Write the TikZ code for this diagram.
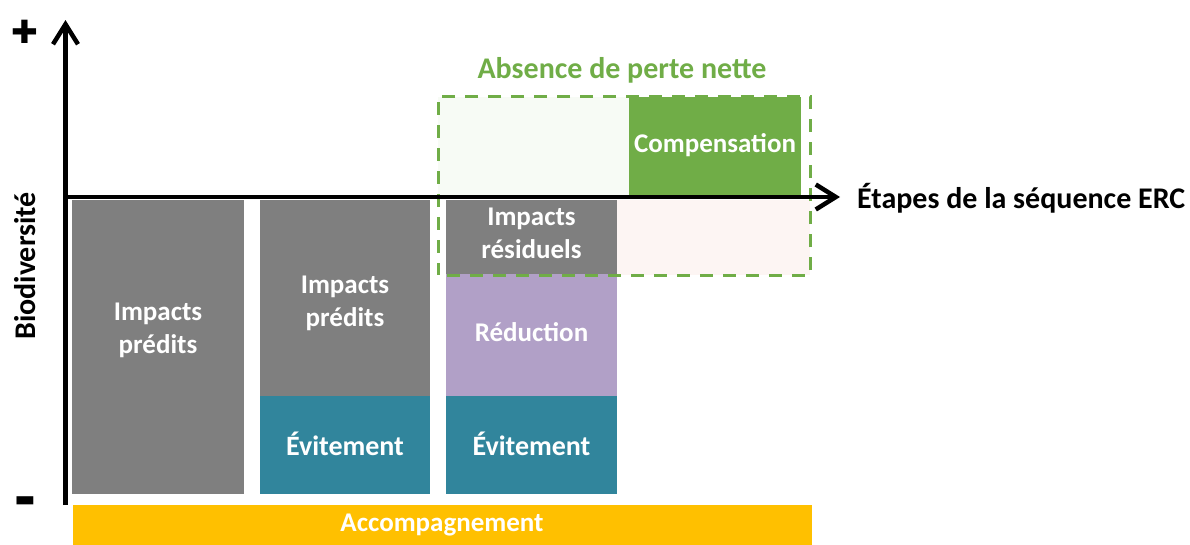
\documentclass[tikz,border=0pt]{standalone}
\usepackage{fontspec}
\setmainfont{Carlito}
\newfontfamily\symfont{DejaVu Sans}
\usetikzlibrary{arrows.meta}
\definecolor{cgray}{HTML}{7F7F7F}
\definecolor{cteal}{HTML}{31859C}
\definecolor{cpurple}{HTML}{B1A0C7}
\definecolor{cgreen}{HTML}{70AD47}
\definecolor{cyellow}{HTML}{FFC000}
\definecolor{lgreen}{HTML}{F7FBF5}
\definecolor{lpink}{HTML}{FDF5F3}
\begin{document}
\begin{tikzpicture}[x=1pt,y=-1pt,
  blk/.style={draw=none, inner sep=0pt, outer sep=0pt, anchor=north west},
  lbl/.style={font=\fontsize{27}{33}\selectfont\bfseries, text=white, align=center, inner sep=0pt},
  olbl/.style={font=\fontsize{30}{36}\selectfont\bfseries, text=black, inner sep=0pt},
  axis/.style={line width=4.5pt, -{Straight Barb[length=20pt,width=25pt]}},
  dashbox/.style={draw=cgreen, line width=3pt, dash pattern=on 13pt off 10pt, dash phase=-9pt}]
\useasboundingbox (0,0) rectangle (1190,544);
% light backgrounds
\node[blk, fill=lgreen, minimum width=191pt, minimum height=98pt] (bgg) at (438,97) {};
\node[blk, fill=lpink, minimum width=193pt, minimum height=75pt] (bgp) at (617,200) {};
% column 1
\node[blk, fill=cgray, minimum width=172pt, minimum height=294pt] (c1) at (72,200) {};
% column 2
\node[blk, fill=cgray, minimum width=170pt, minimum height=196pt] (c2a) at (260,200) {};
\node[blk, fill=cteal, minimum width=170pt, minimum height=98pt] (c2b) at (260,396) {};
% column 3
\node[blk, fill=cgray, minimum width=171pt, minimum height=74pt] (c3a) at (446,200) {};
\node[blk, fill=cpurple, minimum width=171pt, minimum height=122pt] (c3b) at (446,274) {};
\node[blk, fill=cteal, minimum width=171pt, minimum height=98pt] (c3c) at (446,396) {};
% compensation
\node[blk, fill=cgreen, minimum width=172pt, minimum height=98pt] (comp) at (629,97) {};
% accompagnement
\node[blk, fill=cyellow, minimum width=739pt, minimum height=40pt] (acc) at (73,505) {};
% dashed box
\node[blk, dashbox, minimum width=372pt, minimum height=179pt] (nnl) at (438,96) {};
% axes
\coordinate (o) at (65.5,197);
\coordinate (ybot) at (65.5,505);
\coordinate (ytop) at (65.5,20);
\coordinate (xstart) at (63.25,197);
\coordinate (xend) at (840,197);
\draw[line width=4.5pt] (ybot) -- (o);
\draw[axis] (o) -- (ytop);
\draw[axis] (xstart) -- (xend);
% labels
\node[lbl] (t1) at (158,330) {Impacts\\prédits};
\node[lbl] (t2) at (345,303) {Impacts\\prédits};
\node[lbl] (t3) at (531.5,233) {Impacts\\résiduels};
\node[lbl] (t4) at (531.5,332) {Réduction};
\node[lbl, font=\fontsize{28}{33}\selectfont\bfseries] (t5) at (345,444) {Évitement};
\node[lbl, font=\fontsize{28}{33}\selectfont\bfseries] (t6) at (531.5,444) {Évitement};
\node[lbl] (t7) at (442,525) {Accompagnement};
\node[lbl] (t8) at (715,145) {Compensation};
\node[olbl, text=cgreen] (t9) at (622,70) {Absence de perte nette};
\node[olbl, anchor=west] (t10) at (857,198) {Étapes de la séquence ERC};
\node[olbl, rotate=90] (t11) at (25,266) {Biodiversité};
\node[inner sep=0pt, font=\symfont\fontsize{32}{32}\selectfont] (plus) at (25,32) {✚};
\node[inner sep=0pt, font=\symfont\fontsize{22}{22}\selectfont] (minus) at (25,502) {▬};
\end{tikzpicture}
\end{document}
